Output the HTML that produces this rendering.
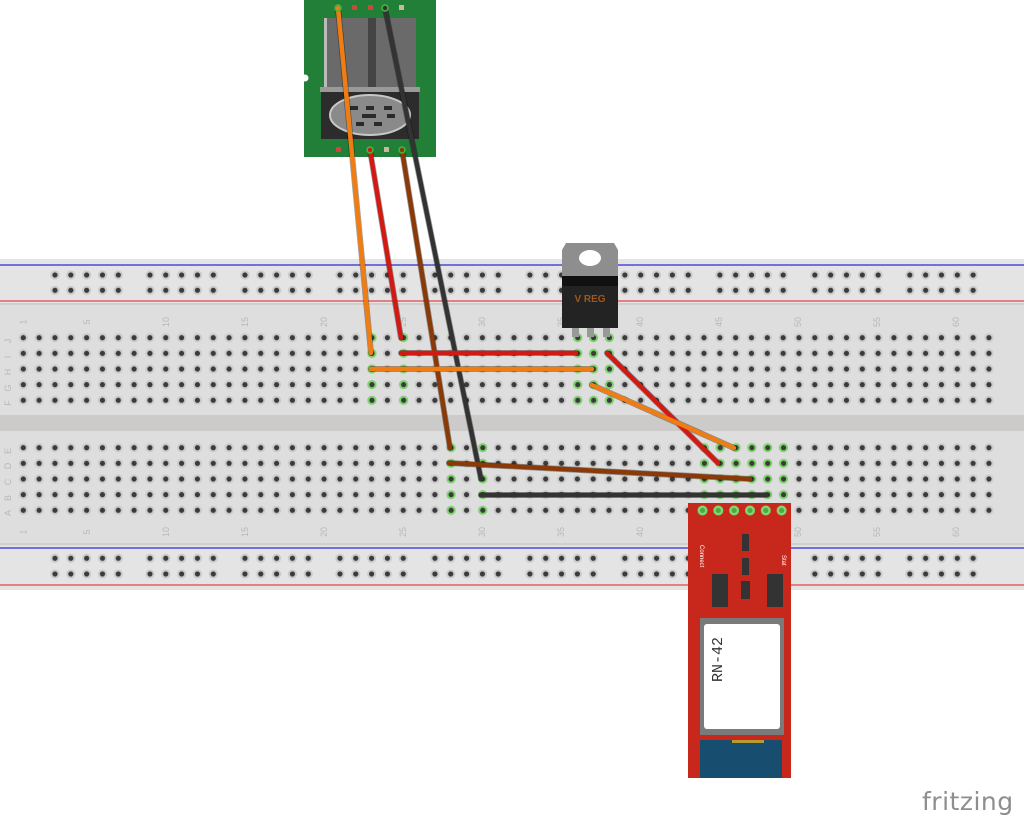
<!DOCTYPE html>
<html><head><meta charset="utf-8"><style>
html,body{margin:0;padding:0;background:#fff;width:1024px;height:819px;overflow:hidden}
svg{display:block}
</style></head><body>
<svg width="1024" height="819" viewBox="0 0 1024 819" xmlns="http://www.w3.org/2000/svg" font-family="Liberation Sans, sans-serif">
<defs>
<pattern id="mt" patternUnits="userSpaceOnUse" x="15.4" y="329.8" width="15.83" height="15.65">
<circle cx="7.9" cy="7.9" r="4.6" fill="#cbcbcb"/><circle cx="7.9" cy="7.9" r="2.6" fill="#3b3b3b"/></pattern>
<pattern id="mb" patternUnits="userSpaceOnUse" x="15.4" y="439.8" width="15.83" height="15.65">
<circle cx="7.9" cy="7.9" r="4.6" fill="#cbcbcb"/><circle cx="7.9" cy="7.9" r="2.6" fill="#3b3b3b"/></pattern>
<pattern id="rt" patternUnits="userSpaceOnUse" x="47.1" y="267.1" width="94.98" height="15.3">
<g fill="#cbcbcb"><circle cx="7.9" cy="7.9" r="4.6"/><circle cx="23.73" cy="7.9" r="4.6"/><circle cx="39.56" cy="7.9" r="4.6"/><circle cx="55.39" cy="7.9" r="4.6"/><circle cx="71.22" cy="7.9" r="4.6"/></g>
<g fill="#3b3b3b"><circle cx="7.9" cy="7.9" r="2.6"/><circle cx="23.73" cy="7.9" r="2.6"/><circle cx="39.56" cy="7.9" r="2.6"/><circle cx="55.39" cy="7.9" r="2.6"/><circle cx="71.22" cy="7.9" r="2.6"/></g></pattern>
<pattern id="rb" patternUnits="userSpaceOnUse" x="47.1" y="550.4" width="94.98" height="15.7">
<g fill="#cbcbcb"><circle cx="7.9" cy="7.9" r="4.6"/><circle cx="23.73" cy="7.9" r="4.6"/><circle cx="39.56" cy="7.9" r="4.6"/><circle cx="55.39" cy="7.9" r="4.6"/><circle cx="71.22" cy="7.9" r="4.6"/></g>
<g fill="#3b3b3b"><circle cx="7.9" cy="7.9" r="2.6"/><circle cx="23.73" cy="7.9" r="2.6"/><circle cx="39.56" cy="7.9" r="2.6"/><circle cx="55.39" cy="7.9" r="2.6"/><circle cx="71.22" cy="7.9" r="2.6"/></g></pattern>
<pattern id="gt" patternUnits="userSpaceOnUse" x="0" y="329.8" width="15.83" height="15.65">
<circle cx="7.9" cy="7.9" r="4.6" fill="#7fd56e"/><circle cx="7.9" cy="7.9" r="2.6" fill="#3b3b3b"/></pattern>
<pattern id="gb" patternUnits="userSpaceOnUse" x="0" y="439.8" width="15.83" height="15.65">
<circle cx="7.9" cy="7.9" r="4.6" fill="#7fd56e"/><circle cx="7.9" cy="7.9" r="2.6" fill="#3b3b3b"/></pattern>
</defs>

<rect x="0" y="259" width="1024" height="331" fill="#dedede"/>
<rect x="0" y="259" width="1024" height="44" fill="#e4e4e4"/>
<rect x="0" y="546" width="1024" height="44" fill="#e4e4e4"/>
<rect x="0" y="303" width="1024" height="2" fill="#cfcfcf"/>
<rect x="0" y="543" width="1024" height="2" fill="#cfcfcf"/>
<rect x="0" y="415" width="1024" height="16" fill="#cdcbc9"/>
<line x1="0" y1="265" x2="1024" y2="265" stroke="#4b4bdc" stroke-width="1.5"/>
<line x1="0" y1="301" x2="1024" y2="301" stroke="#e06060" stroke-width="1.5"/>
<line x1="0" y1="548" x2="1024" y2="548" stroke="#4b4bdc" stroke-width="1.5"/>
<line x1="0" y1="585" x2="1024" y2="585" stroke="#e06060" stroke-width="1.5"/>
<rect x="47.1" y="267.1" width="949.8" height="30.6" fill="url(#rt)"/>
<rect x="47.1" y="550.4" width="949.8" height="31.4" fill="url(#rb)"/>
<rect x="15.4" y="329.8" width="981.5" height="78.25" fill="url(#mt)"/>
<rect x="15.4" y="439.8" width="981.5" height="78.25" fill="url(#mb)"/>
<rect x="363.1" y="329.8" width="15.83" height="78.25" fill="url(#gt)"/>
<rect x="394.8" y="329.8" width="15.83" height="78.25" fill="url(#gt)"/>
<rect x="568.9" y="329.8" width="47.5" height="78.25" fill="url(#gt)"/>
<rect x="442.3" y="439.8" width="15.83" height="78.25" fill="url(#gb)"/>
<rect x="474" y="439.8" width="15.83" height="78.25" fill="url(#gb)"/>
<rect x="695.5" y="439.8" width="95" height="78.25" fill="url(#gb)"/>
<g fill="#b8b8b8" font-size="9">
<g transform="translate(11,0)">
<text x="0" y="341" transform="rotate(-90 0 341)" text-anchor="middle">J</text>
<text x="0" y="357" transform="rotate(-90 0 357)" text-anchor="middle">I</text>
<text x="0" y="372" transform="rotate(-90 0 372)" text-anchor="middle">H</text>
<text x="0" y="388" transform="rotate(-90 0 388)" text-anchor="middle">G</text>
<text x="0" y="403" transform="rotate(-90 0 403)" text-anchor="middle">F</text>
<text x="0" y="451" transform="rotate(-90 0 451)" text-anchor="middle">E</text>
<text x="0" y="466" transform="rotate(-90 0 466)" text-anchor="middle">D</text>
<text x="0" y="482" transform="rotate(-90 0 482)" text-anchor="middle">C</text>
<text x="0" y="498" transform="rotate(-90 0 498)" text-anchor="middle">B</text>
<text x="0" y="513" transform="rotate(-90 0 513)" text-anchor="middle">A</text>
</g>
<g text-anchor="middle">
<text transform="translate(26.5,322) rotate(-90)">1</text><text transform="translate(90,322) rotate(-90)">5</text>
<text transform="translate(169,322) rotate(-90)">10</text><text transform="translate(248,322) rotate(-90)">15</text>
<text transform="translate(327,322) rotate(-90)">20</text><text transform="translate(406,322) rotate(-90)">25</text>
<text transform="translate(485,322) rotate(-90)">30</text><text transform="translate(564,322) rotate(-90)">35</text>
<text transform="translate(643,322) rotate(-90)">40</text><text transform="translate(722,322) rotate(-90)">45</text>
<text transform="translate(801,322) rotate(-90)">50</text><text transform="translate(880,322) rotate(-90)">55</text>
<text transform="translate(959,322) rotate(-90)">60</text>
<text transform="translate(26.5,532) rotate(-90)">1</text><text transform="translate(90,532) rotate(-90)">5</text>
<text transform="translate(169,532) rotate(-90)">10</text><text transform="translate(248,532) rotate(-90)">15</text>
<text transform="translate(327,532) rotate(-90)">20</text><text transform="translate(406,532) rotate(-90)">25</text>
<text transform="translate(485,532) rotate(-90)">30</text><text transform="translate(564,532) rotate(-90)">35</text>
<text transform="translate(643,532) rotate(-90)">40</text><text transform="translate(722,532) rotate(-90)">45</text>
<text transform="translate(801,532) rotate(-90)">50</text><text transform="translate(880,532) rotate(-90)">55</text>
<text transform="translate(959,532) rotate(-90)">60</text>
</g>
</g>

<rect x="304" y="0" width="132" height="157" fill="#217f38"/>
<circle cx="305" cy="78" r="3.5" fill="#fff"/>
<rect x="324" y="18" width="92" height="72" fill="#6a6a6a"/>
<rect x="324" y="18" width="3" height="72" fill="#bbb"/>
<rect x="368" y="18" width="8" height="72" fill="#444"/>
<rect x="320" y="87" width="100" height="5" fill="#9a9a9a"/>
<rect x="321" y="92" width="98" height="47" fill="#2c2c2c"/>
<ellipse cx="370" cy="115" rx="40" ry="20" fill="#8a8a8a" stroke="#c8c8c8" stroke-width="2"/>
<g fill="#2a2a2a"><rect x="350" y="106" width="8" height="4"/><rect x="366" y="106" width="8" height="4"/><rect x="384" y="106" width="8" height="4"/><rect x="362" y="114" width="14" height="4"/><rect x="387" y="114" width="8" height="4"/><rect x="356" y="122" width="8" height="4"/><rect x="374" y="122" width="8" height="4"/></g>
<g fill="#c74a3c"><rect x="352" y="5" width="5" height="5"/><rect x="368" y="5" width="5" height="5"/><rect x="336" y="147" width="5" height="5"/></g>
<g fill="#c9b89a"><rect x="399" y="5" width="5" height="5"/><rect x="384" y="147" width="5" height="5"/></g>

<path d="M562 250 l4 -7 h48 l4 7 v26 h-56z" fill="#8e8e8e"/>
<ellipse cx="590" cy="258" rx="11" ry="8" fill="#fff"/>
<rect x="562" y="276" width="56" height="52" fill="#232323"/>
<rect x="562" y="276" width="56" height="10" fill="#111"/>
<text x="590" y="302" text-anchor="middle" font-size="10" font-weight="bold" fill="#a0561a">V REG</text>
<g fill="#999"><rect x="572" y="328" width="7" height="9"/><rect x="587" y="328" width="7" height="9"/><rect x="603" y="328" width="7" height="9"/></g>

<g stroke-linecap="round" fill="none">
<g stroke-width="6" stroke="#000" opacity="0.35">
<line x1="338" y1="8" x2="371" y2="353"/><line x1="370" y1="150" x2="401" y2="338"/>
<line x1="402" y1="150" x2="450" y2="448"/><line x1="385" y1="8" x2="481" y2="479"/>
<line x1="401" y1="353" x2="576" y2="353"/><line x1="371" y1="369" x2="592" y2="369"/>
<line x1="607" y1="353" x2="718" y2="463"/><line x1="592" y1="385" x2="734" y2="448"/>
<line x1="449" y1="463" x2="750" y2="479"/><line x1="481" y1="495" x2="766" y2="495"/>
</g>
<g stroke-width="4.5">
<line x1="338" y1="8" x2="371" y2="353" stroke="#f07c14"/>
<line x1="370" y1="150" x2="401" y2="338" stroke="#d11a14"/>
<line x1="402" y1="150" x2="450" y2="448" stroke="#8a3a08"/>
<line x1="385" y1="8" x2="481" y2="479" stroke="#333"/>
<line x1="401" y1="353" x2="576" y2="353" stroke="#d11a14"/>
<line x1="371" y1="369" x2="592" y2="369" stroke="#f07c14"/>
<line x1="607" y1="353" x2="718" y2="463" stroke="#d11a14"/>
<line x1="592" y1="385" x2="734" y2="448" stroke="#f07c14"/>
<line x1="449" y1="463" x2="750" y2="479" stroke="#8a3a08"/>
<line x1="481" y1="495" x2="766" y2="495" stroke="#333"/>
</g>
<g stroke="#48b83c" stroke-width="1.5">
<circle cx="338" cy="8" r="3"/><circle cx="385" cy="8" r="3"/><circle cx="370" cy="150" r="3"/><circle cx="402" cy="150" r="3"/>
</g>
</g>

<rect x="688" y="503" width="103" height="275" fill="#c8281c"/>
<g fill="#7fd56e"><circle cx="702.5" cy="510.5" r="5"/><circle cx="718.3" cy="510.5" r="5"/><circle cx="734.1" cy="510.5" r="5"/><circle cx="750" cy="510.5" r="5"/><circle cx="765.8" cy="510.5" r="5"/><circle cx="781.6" cy="510.5" r="5"/></g>
<g fill="#4fa842"><circle cx="702.5" cy="510.5" r="2.5"/><circle cx="718.3" cy="510.5" r="2.5"/><circle cx="734.1" cy="510.5" r="2.5"/><circle cx="750" cy="510.5" r="2.5"/><circle cx="765.8" cy="510.5" r="2.5"/><circle cx="781.6" cy="510.5" r="2.5"/></g>
<g fill="#333"><rect x="742" y="534" width="7" height="17"/><rect x="742" y="558" width="7" height="17"/><rect x="741" y="581" width="9" height="18"/><rect x="712" y="574" width="16" height="33"/><rect x="767" y="574" width="16" height="33"/></g>
<text transform="translate(700,545) rotate(90)" font-size="6" fill="#fff">Connect</text>
<text transform="translate(782,555) rotate(90)" font-size="6" fill="#fff">Stat</text>
<rect x="700" y="618" width="84" height="117" fill="#7a7a7a"/>
<rect x="704" y="624" width="76" height="105" rx="3" fill="#fff"/>
<text transform="translate(722,682) rotate(-90)" font-size="15" fill="#333" font-family="Liberation Mono, monospace">RN-42</text>
<rect x="700" y="740" width="82" height="38" fill="#174d6e"/>
<rect x="732" y="740" width="32" height="3" fill="#b89a30"/>

<text x="922" y="810" font-size="25" fill="#8e8e8e" font-family="DejaVu Sans, sans-serif" letter-spacing="0.5">fritzing</text>
</svg>
</body></html>
